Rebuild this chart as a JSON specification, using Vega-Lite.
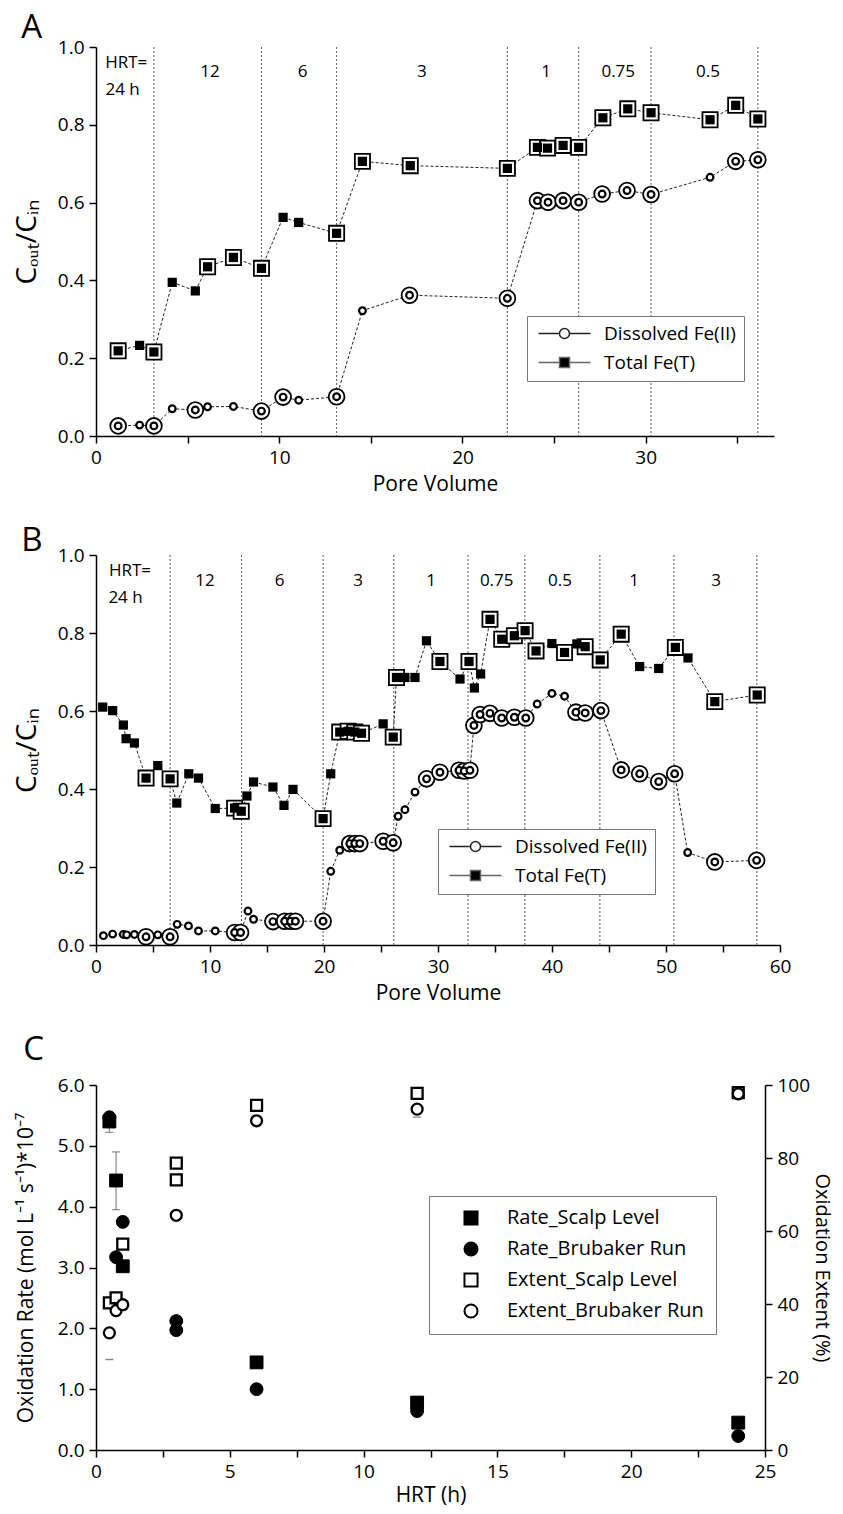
{
 "$schema": "https://vega.github.io/schema/vega-lite/v6.json",
 "background": "white",
 "padding": {"left": 13, "top": 12, "right": 4, "bottom": 6},
 "config": {
  "font": "Open Sans",
  "view": {"stroke": null},
  "point": {"opacity": 1},
  "axis": {"domainColor": "black", "domainWidth": 1.5, "tickColor": "black", "tickWidth": 1.5, "tickSize": 7, "labelColor": "black", "labelFontSize": 19, "labelFont": "Open Sans", "labelPadding": 5, "titleFont": "Open Sans", "titleFontSize": 21, "titleFontWeight": "normal", "titleColor": "black", "grid": false, "labelOverlap": false, "labelFlush": false},
  "legend": {"labelFont": "Open Sans", "labelColor": "black", "labelFontSize": 19, "labelLimit": 400},
  "title": {"font": "Open Sans", "fontSize": 33, "fontWeight": "normal", "color": "black", "anchor": "start", "frame": "bounds"}
 },
 "resolve": {"scale": {"shape": "independent", "fill": "independent", "stroke": "independent"}, "legend": {"shape": "independent", "fill": "independent", "stroke": "independent"}},
 "datasets": {
  "a_series": [
   {"pv": 1.21, "c": 0.219, "species": "Total Fe(T)", "sampling": "paired"},
   {"pv": 2.38, "c": 0.233, "species": "Total Fe(T)", "sampling": "single"},
   {"pv": 3.16, "c": 0.216, "species": "Total Fe(T)", "sampling": "paired"},
   {"pv": 4.16, "c": 0.395, "species": "Total Fe(T)", "sampling": "single"},
   {"pv": 5.42, "c": 0.373, "species": "Total Fe(T)", "sampling": "single"},
   {"pv": 6.09, "c": 0.435, "species": "Total Fe(T)", "sampling": "paired"},
   {"pv": 7.50, "c": 0.459, "species": "Total Fe(T)", "sampling": "paired"},
   {"pv": 9.03, "c": 0.431, "species": "Total Fe(T)", "sampling": "paired"},
   {"pv": 10.21, "c": 0.562, "species": "Total Fe(T)", "sampling": "single"},
   {"pv": 11.06, "c": 0.549, "species": "Total Fe(T)", "sampling": "single"},
   {"pv": 13.13, "c": 0.521, "species": "Total Fe(T)", "sampling": "paired"},
   {"pv": 14.54, "c": 0.706, "species": "Total Fe(T)", "sampling": "paired"},
   {"pv": 17.15, "c": 0.695, "species": "Total Fe(T)", "sampling": "paired"},
   {"pv": 22.45, "c": 0.688, "species": "Total Fe(T)", "sampling": "paired"},
   {"pv": 24.09, "c": 0.742, "species": "Total Fe(T)", "sampling": "paired"},
   {"pv": 24.64, "c": 0.740, "species": "Total Fe(T)", "sampling": "paired"},
   {"pv": 25.49, "c": 0.747, "species": "Total Fe(T)", "sampling": "paired"},
   {"pv": 26.34, "c": 0.742, "species": "Total Fe(T)", "sampling": "paired"},
   {"pv": 27.66, "c": 0.818, "species": "Total Fe(T)", "sampling": "paired"},
   {"pv": 29.02, "c": 0.841, "species": "Total Fe(T)", "sampling": "paired"},
   {"pv": 30.29, "c": 0.831, "species": "Total Fe(T)", "sampling": "paired"},
   {"pv": 33.51, "c": 0.813, "species": "Total Fe(T)", "sampling": "paired"},
   {"pv": 34.91, "c": 0.850, "species": "Total Fe(T)", "sampling": "paired"},
   {"pv": 36.12, "c": 0.815, "species": "Total Fe(T)", "sampling": "paired"},
   {"pv": 1.21, "c": 0.026, "species": "Dissolved Fe(II)", "sampling": "paired"},
   {"pv": 2.38, "c": 0.028, "species": "Dissolved Fe(II)", "sampling": "single"},
   {"pv": 3.16, "c": 0.026, "species": "Dissolved Fe(II)", "sampling": "paired"},
   {"pv": 4.16, "c": 0.070, "species": "Dissolved Fe(II)", "sampling": "single"},
   {"pv": 5.42, "c": 0.067, "species": "Dissolved Fe(II)", "sampling": "paired"},
   {"pv": 6.09, "c": 0.075, "species": "Dissolved Fe(II)", "sampling": "single"},
   {"pv": 7.50, "c": 0.076, "species": "Dissolved Fe(II)", "sampling": "single"},
   {"pv": 9.03, "c": 0.064, "species": "Dissolved Fe(II)", "sampling": "paired"},
   {"pv": 10.21, "c": 0.100, "species": "Dissolved Fe(II)", "sampling": "paired"},
   {"pv": 11.06, "c": 0.092, "species": "Dissolved Fe(II)", "sampling": "single"},
   {"pv": 13.13, "c": 0.101, "species": "Dissolved Fe(II)", "sampling": "paired"},
   {"pv": 14.54, "c": 0.322, "species": "Dissolved Fe(II)", "sampling": "single"},
   {"pv": 17.11, "c": 0.362, "species": "Dissolved Fe(II)", "sampling": "paired"},
   {"pv": 22.45, "c": 0.354, "species": "Dissolved Fe(II)", "sampling": "paired"},
   {"pv": 24.09, "c": 0.605, "species": "Dissolved Fe(II)", "sampling": "paired"},
   {"pv": 24.67, "c": 0.601, "species": "Dissolved Fe(II)", "sampling": "paired"},
   {"pv": 25.49, "c": 0.605, "species": "Dissolved Fe(II)", "sampling": "paired"},
   {"pv": 26.34, "c": 0.601, "species": "Dissolved Fe(II)", "sampling": "paired"},
   {"pv": 27.62, "c": 0.622, "species": "Dissolved Fe(II)", "sampling": "paired"},
   {"pv": 28.98, "c": 0.631, "species": "Dissolved Fe(II)", "sampling": "paired"},
   {"pv": 30.29, "c": 0.621, "species": "Dissolved Fe(II)", "sampling": "paired"},
   {"pv": 33.51, "c": 0.665, "species": "Dissolved Fe(II)", "sampling": "single"},
   {"pv": 34.91, "c": 0.706, "species": "Dissolved Fe(II)", "sampling": "paired"},
   {"pv": 36.12, "c": 0.710, "species": "Dissolved Fe(II)", "sampling": "paired"}
  ],
  "a_bounds": [{"pv": 3.16}, {"pv": 9.03}, {"pv": 13.13}, {"pv": 22.45}, {"pv": 26.34}, {"pv": 30.29}, {"pv": 36.12}],
  "a_labels": [
   {"pv": 1.65, "c": 0.958, "label": "HRT="},
   {"pv": 1.45, "c": 0.89, "label": "24 h"},
   {"pv": 6.22, "c": 0.935, "label": "12"},
   {"pv": 11.28, "c": 0.935, "label": "6"},
   {"pv": 17.78, "c": 0.935, "label": "3"},
   {"pv": 24.56, "c": 0.935, "label": "1"},
   {"pv": 28.5, "c": 0.935, "label": "0.75"},
   {"pv": 33.4, "c": 0.935, "label": "0.5"}
  ],
  "b_series": [
   {"pv": 0.59, "c": 0.610, "species": "Total Fe(T)", "sampling": "single"},
   {"pv": 1.46, "c": 0.601, "species": "Total Fe(T)", "sampling": "single"},
   {"pv": 2.40, "c": 0.564, "species": "Total Fe(T)", "sampling": "single"},
   {"pv": 2.64, "c": 0.529, "species": "Total Fe(T)", "sampling": "single"},
   {"pv": 3.37, "c": 0.518, "species": "Total Fe(T)", "sampling": "single"},
   {"pv": 4.39, "c": 0.428, "species": "Total Fe(T)", "sampling": "paired"},
   {"pv": 5.42, "c": 0.460, "species": "Total Fe(T)", "sampling": "single"},
   {"pv": 6.50, "c": 0.426, "species": "Total Fe(T)", "sampling": "paired"},
   {"pv": 7.09, "c": 0.364, "species": "Total Fe(T)", "sampling": "single"},
   {"pv": 8.14, "c": 0.439, "species": "Total Fe(T)", "sampling": "single"},
   {"pv": 8.99, "c": 0.428, "species": "Total Fe(T)", "sampling": "single"},
   {"pv": 10.46, "c": 0.350, "species": "Total Fe(T)", "sampling": "single"},
   {"pv": 12.16, "c": 0.351, "species": "Total Fe(T)", "sampling": "paired"},
   {"pv": 12.74, "c": 0.343, "species": "Total Fe(T)", "sampling": "paired"},
   {"pv": 13.24, "c": 0.382, "species": "Total Fe(T)", "sampling": "single"},
   {"pv": 13.82, "c": 0.418, "species": "Total Fe(T)", "sampling": "single"},
   {"pv": 15.52, "c": 0.405, "species": "Total Fe(T)", "sampling": "single"},
   {"pv": 16.49, "c": 0.358, "species": "Total Fe(T)", "sampling": "single"},
   {"pv": 17.28, "c": 0.399, "species": "Total Fe(T)", "sampling": "single"},
   {"pv": 19.92, "c": 0.324, "species": "Total Fe(T)", "sampling": "paired"},
   {"pv": 20.59, "c": 0.439, "species": "Total Fe(T)", "sampling": "single"},
   {"pv": 21.38, "c": 0.546, "species": "Total Fe(T)", "sampling": "paired"},
   {"pv": 22.12, "c": 0.548, "species": "Total Fe(T)", "sampling": "paired"},
   {"pv": 22.70, "c": 0.546, "species": "Total Fe(T)", "sampling": "paired"},
   {"pv": 23.29, "c": 0.543, "species": "Total Fe(T)", "sampling": "paired"},
   {"pv": 25.19, "c": 0.567, "species": "Total Fe(T)", "sampling": "single"},
   {"pv": 26.07, "c": 0.533, "species": "Total Fe(T)", "sampling": "paired"},
   {"pv": 26.36, "c": 0.686, "species": "Total Fe(T)", "sampling": "paired"},
   {"pv": 27.10, "c": 0.686, "species": "Total Fe(T)", "sampling": "single"},
   {"pv": 27.98, "c": 0.686, "species": "Total Fe(T)", "sampling": "single"},
   {"pv": 28.99, "c": 0.780, "species": "Total Fe(T)", "sampling": "single"},
   {"pv": 30.17, "c": 0.727, "species": "Total Fe(T)", "sampling": "paired"},
   {"pv": 31.93, "c": 0.682, "species": "Total Fe(T)", "sampling": "single"},
   {"pv": 32.72, "c": 0.727, "species": "Total Fe(T)", "sampling": "paired"},
   {"pv": 33.19, "c": 0.659, "species": "Total Fe(T)", "sampling": "single"},
   {"pv": 33.74, "c": 0.695, "species": "Total Fe(T)", "sampling": "single"},
   {"pv": 34.56, "c": 0.835, "species": "Total Fe(T)", "sampling": "paired"},
   {"pv": 35.59, "c": 0.784, "species": "Total Fe(T)", "sampling": "paired"},
   {"pv": 36.70, "c": 0.793, "species": "Total Fe(T)", "sampling": "paired"},
   {"pv": 37.64, "c": 0.806, "species": "Total Fe(T)", "sampling": "paired"},
   {"pv": 38.60, "c": 0.754, "species": "Total Fe(T)", "sampling": "paired"},
   {"pv": 39.99, "c": 0.773, "species": "Total Fe(T)", "sampling": "single"},
   {"pv": 41.10, "c": 0.750, "species": "Total Fe(T)", "sampling": "paired"},
   {"pv": 42.18, "c": 0.772, "species": "Total Fe(T)", "sampling": "single"},
   {"pv": 42.91, "c": 0.765, "species": "Total Fe(T)", "sampling": "paired"},
   {"pv": 44.23, "c": 0.731, "species": "Total Fe(T)", "sampling": "paired"},
   {"pv": 46.07, "c": 0.797, "species": "Total Fe(T)", "sampling": "paired"},
   {"pv": 47.69, "c": 0.714, "species": "Total Fe(T)", "sampling": "single"},
   {"pv": 49.36, "c": 0.709, "species": "Total Fe(T)", "sampling": "single"},
   {"pv": 50.82, "c": 0.763, "species": "Total Fe(T)", "sampling": "paired"},
   {"pv": 51.93, "c": 0.736, "species": "Total Fe(T)", "sampling": "single"},
   {"pv": 54.28, "c": 0.624, "species": "Total Fe(T)", "sampling": "paired"},
   {"pv": 58.00, "c": 0.641, "species": "Total Fe(T)", "sampling": "paired"},
   {"pv": 0.65, "c": 0.024, "species": "Dissolved Fe(II)", "sampling": "single"},
   {"pv": 1.46, "c": 0.028, "species": "Dissolved Fe(II)", "sampling": "single"},
   {"pv": 2.40, "c": 0.027, "species": "Dissolved Fe(II)", "sampling": "single"},
   {"pv": 2.69, "c": 0.026, "species": "Dissolved Fe(II)", "sampling": "single"},
   {"pv": 3.37, "c": 0.027, "species": "Dissolved Fe(II)", "sampling": "single"},
   {"pv": 4.39, "c": 0.021, "species": "Dissolved Fe(II)", "sampling": "paired"},
   {"pv": 5.42, "c": 0.026, "species": "Dissolved Fe(II)", "sampling": "single"},
   {"pv": 6.50, "c": 0.021, "species": "Dissolved Fe(II)", "sampling": "paired"},
   {"pv": 7.12, "c": 0.053, "species": "Dissolved Fe(II)", "sampling": "single"},
   {"pv": 8.11, "c": 0.049, "species": "Dissolved Fe(II)", "sampling": "single"},
   {"pv": 8.99, "c": 0.036, "species": "Dissolved Fe(II)", "sampling": "single"},
   {"pv": 10.46, "c": 0.036, "species": "Dissolved Fe(II)", "sampling": "single"},
   {"pv": 12.16, "c": 0.032, "species": "Dissolved Fe(II)", "sampling": "paired"},
   {"pv": 12.68, "c": 0.032, "species": "Dissolved Fe(II)", "sampling": "paired"},
   {"pv": 13.33, "c": 0.087, "species": "Dissolved Fe(II)", "sampling": "single"},
   {"pv": 13.82, "c": 0.066, "species": "Dissolved Fe(II)", "sampling": "single"},
   {"pv": 15.52, "c": 0.060, "species": "Dissolved Fe(II)", "sampling": "paired"},
   {"pv": 16.55, "c": 0.061, "species": "Dissolved Fe(II)", "sampling": "paired"},
   {"pv": 17.07, "c": 0.061, "species": "Dissolved Fe(II)", "sampling": "paired"},
   {"pv": 17.49, "c": 0.061, "species": "Dissolved Fe(II)", "sampling": "paired"},
   {"pv": 19.92, "c": 0.061, "species": "Dissolved Fe(II)", "sampling": "paired"},
   {"pv": 20.59, "c": 0.189, "species": "Dissolved Fe(II)", "sampling": "single"},
   {"pv": 21.38, "c": 0.243, "species": "Dissolved Fe(II)", "sampling": "single"},
   {"pv": 22.26, "c": 0.260, "species": "Dissolved Fe(II)", "sampling": "paired"},
   {"pv": 22.70, "c": 0.260, "species": "Dissolved Fe(II)", "sampling": "paired"},
   {"pv": 23.14, "c": 0.260, "species": "Dissolved Fe(II)", "sampling": "paired"},
   {"pv": 25.19, "c": 0.266, "species": "Dissolved Fe(II)", "sampling": "paired"},
   {"pv": 26.07, "c": 0.262, "species": "Dissolved Fe(II)", "sampling": "paired"},
   {"pv": 26.50, "c": 0.330, "species": "Dissolved Fe(II)", "sampling": "single"},
   {"pv": 27.10, "c": 0.347, "species": "Dissolved Fe(II)", "sampling": "single"},
   {"pv": 27.98, "c": 0.392, "species": "Dissolved Fe(II)", "sampling": "single"},
   {"pv": 29.00, "c": 0.426, "species": "Dissolved Fe(II)", "sampling": "paired"},
   {"pv": 30.17, "c": 0.443, "species": "Dissolved Fe(II)", "sampling": "paired"},
   {"pv": 31.84, "c": 0.448, "species": "Dissolved Fe(II)", "sampling": "paired"},
   {"pv": 32.30, "c": 0.446, "species": "Dissolved Fe(II)", "sampling": "paired"},
   {"pv": 32.80, "c": 0.448, "species": "Dissolved Fe(II)", "sampling": "paired"},
   {"pv": 33.15, "c": 0.563, "species": "Dissolved Fe(II)", "sampling": "paired"},
   {"pv": 33.69, "c": 0.591, "species": "Dissolved Fe(II)", "sampling": "paired"},
   {"pv": 34.56, "c": 0.594, "species": "Dissolved Fe(II)", "sampling": "paired"},
   {"pv": 35.59, "c": 0.582, "species": "Dissolved Fe(II)", "sampling": "paired"},
   {"pv": 36.70, "c": 0.584, "species": "Dissolved Fe(II)", "sampling": "paired"},
   {"pv": 37.70, "c": 0.582, "species": "Dissolved Fe(II)", "sampling": "paired"},
   {"pv": 38.70, "c": 0.618, "species": "Dissolved Fe(II)", "sampling": "single"},
   {"pv": 39.99, "c": 0.645, "species": "Dissolved Fe(II)", "sampling": "single"},
   {"pv": 41.10, "c": 0.638, "species": "Dissolved Fe(II)", "sampling": "single"},
   {"pv": 42.10, "c": 0.597, "species": "Dissolved Fe(II)", "sampling": "paired"},
   {"pv": 42.91, "c": 0.595, "species": "Dissolved Fe(II)", "sampling": "paired"},
   {"pv": 44.29, "c": 0.601, "species": "Dissolved Fe(II)", "sampling": "paired"},
   {"pv": 46.07, "c": 0.449, "species": "Dissolved Fe(II)", "sampling": "paired"},
   {"pv": 47.69, "c": 0.439, "species": "Dissolved Fe(II)", "sampling": "paired"},
   {"pv": 49.36, "c": 0.419, "species": "Dissolved Fe(II)", "sampling": "paired"},
   {"pv": 50.76, "c": 0.439, "species": "Dissolved Fe(II)", "sampling": "paired"},
   {"pv": 51.90, "c": 0.237, "species": "Dissolved Fe(II)", "sampling": "single"},
   {"pv": 54.28, "c": 0.213, "species": "Dissolved Fe(II)", "sampling": "paired"},
   {"pv": 57.95, "c": 0.217, "species": "Dissolved Fe(II)", "sampling": "paired"}
  ],
  "b_bounds": [{"pv": 6.5}, {"pv": 12.77}, {"pv": 19.92}, {"pv": 26.12}, {"pv": 32.63}, {"pv": 37.62}, {"pv": 44.2}, {"pv": 50.7}, {"pv": 57.97}],
  "b_labels": [
   {"pv": 2.98, "c": 0.958, "label": "HRT="},
   {"pv": 2.59, "c": 0.89, "label": "24 h"},
   {"pv": 9.56, "c": 0.934, "label": "12"},
   {"pv": 16.1, "c": 0.934, "label": "6"},
   {"pv": 23.0, "c": 0.934, "label": "3"},
   {"pv": 29.4, "c": 0.934, "label": "1"},
   {"pv": 35.15, "c": 0.934, "label": "0.75"},
   {"pv": 40.7, "c": 0.934, "label": "0.5"},
   {"pv": 47.2, "c": 0.934, "label": "1"},
   {"pv": 54.4, "c": 0.934, "label": "3"}
  ],
  "c_pts": [
   {"hrt": 0.5, "series": "Rate_Scalp Level", "value": 5.40},
   {"hrt": 0.5, "series": "Rate_Brubaker Run", "value": 5.47},
   {"hrt": 0.5, "series": "Extent_Scalp Level", "value": 40.3},
   {"hrt": 0.5, "series": "Extent_Brubaker Run", "value": 32.1},
   {"hrt": 0.75, "series": "Rate_Scalp Level", "value": 4.43},
   {"hrt": 0.75, "series": "Rate_Brubaker Run", "value": 3.17},
   {"hrt": 0.75, "series": "Extent_Scalp Level", "value": 41.7},
   {"hrt": 0.75, "series": "Extent_Brubaker Run", "value": 38.2},
   {"hrt": 1, "series": "Rate_Scalp Level", "value": 3.02},
   {"hrt": 1, "series": "Rate_Brubaker Run", "value": 3.75},
   {"hrt": 1, "series": "Extent_Scalp Level", "value": 56.4},
   {"hrt": 1, "series": "Extent_Brubaker Run", "value": 39.8},
   {"hrt": 3, "series": "Rate_Brubaker Run", "value": 2.12},
   {"hrt": 3, "series": "Rate_Brubaker Run", "value": 1.97},
   {"hrt": 3, "series": "Extent_Scalp Level", "value": 78.6},
   {"hrt": 3, "series": "Extent_Scalp Level", "value": 74.0},
   {"hrt": 3, "series": "Extent_Brubaker Run", "value": 64.3},
   {"hrt": 6, "series": "Rate_Scalp Level", "value": 1.44},
   {"hrt": 6, "series": "Rate_Brubaker Run", "value": 1.00},
   {"hrt": 6, "series": "Extent_Scalp Level", "value": 94.4},
   {"hrt": 6, "series": "Extent_Brubaker Run", "value": 90.2},
   {"hrt": 12, "series": "Rate_Scalp Level", "value": 0.78},
   {"hrt": 12, "series": "Rate_Brubaker Run", "value": 0.64},
   {"hrt": 12, "series": "Extent_Scalp Level", "value": 97.7},
   {"hrt": 12, "series": "Extent_Brubaker Run", "value": 93.4},
   {"hrt": 24, "series": "Rate_Scalp Level", "value": 0.45},
   {"hrt": 24, "series": "Rate_Brubaker Run", "value": 0.23},
   {"hrt": 24, "series": "Extent_Scalp Level", "value": 97.9},
   {"hrt": 24, "series": "Extent_Brubaker Run", "value": 97.6}
  ],
  "c_err_rate": [
   {"hrt": 0.75, "lo": 3.95, "hi": 4.90},
   {"hrt": 0.5, "lo": 5.22, "hi": 5.47}
  ],
  "c_err_ext": [
   {"hrt": 0.5, "lo": 24.8, "hi": 32.1},
   {"hrt": 12, "lo": 91.2, "hi": 93.4}
  ]
 },
 "spacing": 31,
 "vconcat": [
  {
   "width": 678, "height": 389,
   "title": {"text": "A", "dx": 8, "offset": -7},
   "layer": [
    {"data": {"name": "a_bounds"}, "mark": {"type": "rule", "color": "#555", "strokeWidth": 1, "strokeDash": [2, 2]},
     "encoding": {"x": {"field": "pv", "type": "quantitative"}}},
    {"data": {"name": "a_labels"}, "mark": {"type": "text", "fontSize": 17, "color": "black", "font": "Open Sans"},
     "encoding": {
      "x": {"field": "pv", "type": "quantitative", "scale": {"domain": [0, 37], "nice": false}, "title": "Pore Volume",
            "axis": {"values": [0, 5, 10, 15, 20, 25, 30, 35], "labelExpr": "datum.value % 10 == 0 ? datum.label : ''", "titlePadding": 6}},
      "y": {"field": "c", "type": "quantitative", "scale": {"domain": [0, 1], "nice": false}, "title": "Cₒᵤₜ/Cᵢₙ",
            "axis": {"values": [0, 0.1, 0.2, 0.3, 0.4, 0.5, 0.6, 0.7, 0.8, 0.9, 1], "labelExpr": "round(datum.value*10) % 2 == 0 ? format(datum.value, '.1f') : ''", "titleFontSize": 28, "titlePadding": 16}},
      "text": {"field": "label"}}},
    {"data": {"name": "a_series"}, "mark": {"type": "line", "color": "#222", "strokeWidth": 1, "strokeDash": [3, 2]},
     "encoding": {"x": {"field": "pv", "type": "quantitative"}, "y": {"field": "c", "type": "quantitative"}, "detail": {"field": "species"}}},
    {"data": {"name": "a_series"}, "transform": [{"filter": "datum.species == 'Total Fe(T)' && datum.sampling == 'paired'"}],
     "mark": {"type": "point", "shape": "square", "size": 230, "filled": true, "fill": "white", "stroke": "black", "strokeWidth": 1.8},
     "encoding": {"x": {"field": "pv", "type": "quantitative"}, "y": {"field": "c", "type": "quantitative"}}},
    {"data": {"name": "a_series"}, "transform": [{"filter": "datum.species == 'Dissolved Fe(II)' && datum.sampling == 'paired'"}],
     "mark": {"type": "point", "shape": "circle", "size": 250, "filled": true, "fill": "white", "stroke": "black", "strokeWidth": 1.8},
     "encoding": {"x": {"field": "pv", "type": "quantitative"}, "y": {"field": "c", "type": "quantitative"}}},
    {"data": {"name": "a_series"}, "transform": [{"filter": "datum.species == 'Total Fe(T)'"}],
     "mark": {"type": "point", "shape": "square", "size": 85, "filled": true, "fill": "black", "strokeWidth": 0},
     "encoding": {"x": {"field": "pv", "type": "quantitative"}, "y": {"field": "c", "type": "quantitative"}}},
    {"data": {"name": "a_series"}, "transform": [{"filter": "datum.species == 'Dissolved Fe(II)'"}],
     "mark": {"type": "point", "shape": "circle", "size": 45, "filled": true, "fill": "white", "stroke": "black", "strokeWidth": 2.2},
     "encoding": {"x": {"field": "pv", "type": "quantitative"}, "y": {"field": "c", "type": "quantitative"}}},
    {"data": {"name": "a_series"}, "mark": {"type": "point", "filled": true, "opacity": 0},
     "encoding": {"x": {"field": "pv", "type": "quantitative"}, "y": {"field": "c", "type": "quantitative"},
      "shape": {"field": "species", "type": "nominal", "scale": {"domain": ["Dissolved Fe(II)", "Total Fe(T)"], "range": ["M-5.2,0H-1.1M1.1,0H5.2M-1,0A1,1 0 1,0 1,0A1,1 0 1,0 -1,0", "M-5.2,0H-1.1M1.1,0H5.2M-1,-1H1V1H-1Z"]},
       "legend": {"title": null, "orient": "none", "legendX": 431, "legendY": 269, "symbolSize": 100, "symbolOffset": 20, "labelOffset": 30, "padding": 8, "rowPadding": 9, "strokeColor": "#777", "fillColor": "white", "symbolStrokeWidth": 1.5, "symbolOpacity": 1, "labelFontSize": 19}},
      "fill": {"field": "species", "type": "nominal", "scale": {"domain": ["Dissolved Fe(II)", "Total Fe(T)"], "range": ["white", "black"]},
       "legend": {"title": null, "orient": "none", "legendX": 431, "legendY": 269, "symbolSize": 100, "symbolOffset": 20, "labelOffset": 30, "padding": 8, "rowPadding": 9, "strokeColor": "#777", "fillColor": "white", "symbolStrokeWidth": 1.5, "symbolOpacity": 1, "labelFontSize": 19}},
      "stroke": {"field": "species", "type": "nominal", "scale": {"domain": ["Dissolved Fe(II)", "Total Fe(T)"], "range": ["#222", "#666"]},
       "legend": {"title": null, "orient": "none", "legendX": 431, "legendY": 269, "symbolSize": 100, "symbolOffset": 20, "labelOffset": 30, "padding": 8, "rowPadding": 9, "strokeColor": "#777", "fillColor": "white", "symbolStrokeWidth": 1.5, "symbolOpacity": 1, "labelFontSize": 19}}}}
   ]
  },
  {
   "width": 684, "height": 390,
   "title": {"text": "B", "dx": 8, "offset": -12},
   "layer": [
    {"data": {"name": "b_bounds"}, "mark": {"type": "rule", "color": "#555", "strokeWidth": 1, "strokeDash": [2, 2]},
     "encoding": {"x": {"field": "pv", "type": "quantitative"}}},
    {"data": {"name": "b_labels"}, "mark": {"type": "text", "fontSize": 17, "color": "black", "font": "Open Sans"},
     "encoding": {
      "x": {"field": "pv", "type": "quantitative", "scale": {"domain": [0, 60], "nice": false}, "title": "Pore Volume",
            "axis": {"values": [0, 5, 10, 15, 20, 25, 30, 35, 40, 45, 50, 55, 60], "labelExpr": "datum.value % 10 == 0 ? datum.label : ''", "titlePadding": 6}},
      "y": {"field": "c", "type": "quantitative", "scale": {"domain": [0, 1], "nice": false}, "title": "Cₒᵤₜ/Cᵢₙ",
            "axis": {"values": [0, 0.1, 0.2, 0.3, 0.4, 0.5, 0.6, 0.7, 0.8, 0.9, 1], "labelExpr": "round(datum.value*10) % 2 == 0 ? format(datum.value, '.1f') : ''", "titleFontSize": 28, "titlePadding": 16}},
      "text": {"field": "label"}}},
    {"data": {"name": "b_series"}, "mark": {"type": "line", "color": "#222", "strokeWidth": 1, "strokeDash": [3, 2]},
     "encoding": {"x": {"field": "pv", "type": "quantitative"}, "y": {"field": "c", "type": "quantitative"}, "detail": {"field": "species"}}},
    {"data": {"name": "b_series"}, "transform": [{"filter": "datum.species == 'Total Fe(T)' && datum.sampling == 'paired'"}],
     "mark": {"type": "point", "shape": "square", "size": 230, "filled": true, "fill": "white", "stroke": "black", "strokeWidth": 1.8},
     "encoding": {"x": {"field": "pv", "type": "quantitative"}, "y": {"field": "c", "type": "quantitative"}}},
    {"data": {"name": "b_series"}, "transform": [{"filter": "datum.species == 'Dissolved Fe(II)' && datum.sampling == 'paired'"}],
     "mark": {"type": "point", "shape": "circle", "size": 250, "filled": true, "fill": "white", "stroke": "black", "strokeWidth": 1.8},
     "encoding": {"x": {"field": "pv", "type": "quantitative"}, "y": {"field": "c", "type": "quantitative"}}},
    {"data": {"name": "b_series"}, "transform": [{"filter": "datum.species == 'Total Fe(T)'"}],
     "mark": {"type": "point", "shape": "square", "size": 85, "filled": true, "fill": "black", "strokeWidth": 0},
     "encoding": {"x": {"field": "pv", "type": "quantitative"}, "y": {"field": "c", "type": "quantitative"}}},
    {"data": {"name": "b_series"}, "transform": [{"filter": "datum.species == 'Dissolved Fe(II)'"}],
     "mark": {"type": "point", "shape": "circle", "size": 45, "filled": true, "fill": "white", "stroke": "black", "strokeWidth": 2.2},
     "encoding": {"x": {"field": "pv", "type": "quantitative"}, "y": {"field": "c", "type": "quantitative"}}},
    {"data": {"name": "b_series"}, "mark": {"type": "point", "filled": true, "opacity": 0},
     "encoding": {"x": {"field": "pv", "type": "quantitative"}, "y": {"field": "c", "type": "quantitative"},
      "shape": {"field": "species", "type": "nominal", "scale": {"domain": ["Dissolved Fe(II)", "Total Fe(T)"], "range": ["M-5.2,0H-1.1M1.1,0H5.2M-1,0A1,1 0 1,0 1,0A1,1 0 1,0 -1,0", "M-5.2,0H-1.1M1.1,0H5.2M-1,-1H1V1H-1Z"]},
       "legend": {"title": null, "orient": "none", "legendX": 342, "legendY": 274, "symbolSize": 100, "symbolOffset": 20, "labelOffset": 30, "padding": 8, "rowPadding": 9, "strokeColor": "#777", "fillColor": "white", "symbolStrokeWidth": 1.5, "symbolOpacity": 1, "labelFontSize": 19}},
      "fill": {"field": "species", "type": "nominal", "scale": {"domain": ["Dissolved Fe(II)", "Total Fe(T)"], "range": ["white", "black"]},
       "legend": {"title": null, "orient": "none", "legendX": 342, "legendY": 274, "symbolSize": 100, "symbolOffset": 20, "labelOffset": 30, "padding": 8, "rowPadding": 9, "strokeColor": "#777", "fillColor": "white", "symbolStrokeWidth": 1.5, "symbolOpacity": 1, "labelFontSize": 19}},
      "stroke": {"field": "species", "type": "nominal", "scale": {"domain": ["Dissolved Fe(II)", "Total Fe(T)"], "range": ["#222", "#666"]},
       "legend": {"title": null, "orient": "none", "legendX": 342, "legendY": 274, "symbolSize": 100, "symbolOffset": 20, "labelOffset": 30, "padding": 8, "rowPadding": 9, "strokeColor": "#777", "fillColor": "white", "symbolStrokeWidth": 1.5, "symbolOpacity": 1, "labelFontSize": 19}}}}
   ]
  },
  {
   "width": 669, "height": 365,
   "title": {"text": "C", "dx": 8, "offset": 9},
   "resolve": {"scale": {"y": "independent"}},
   "layer": [
    {
     "layer": [
      {"data": {"name": "c_err_rate"}, "mark": {"type": "rule", "color": "#888", "strokeWidth": 1.2},
       "encoding": {"x": {"field": "hrt", "type": "quantitative"}, "y": {"field": "lo", "type": "quantitative"}, "y2": {"field": "hi"}}},
      {"data": {"name": "c_err_rate"}, "mark": {"type": "tick", "orient": "horizontal", "color": "#666", "size": 8, "thickness": 1.3},
       "encoding": {"x": {"field": "hrt", "type": "quantitative"}, "y": {"field": "lo", "type": "quantitative"}}},
      {"data": {"name": "c_err_rate"}, "mark": {"type": "tick", "orient": "horizontal", "color": "#666", "size": 8, "thickness": 1.3},
       "encoding": {"x": {"field": "hrt", "type": "quantitative"}, "y": {"field": "hi", "type": "quantitative"}}},
      {"data": {"name": "c_pts"}, "transform": [{"filter": "indexof(datum.series, 'Rate') == 0"}],
       "mark": {"type": "point", "filled": true, "size": 165, "strokeWidth": 1},
       "encoding": {
        "x": {"field": "hrt", "type": "quantitative", "scale": {"domain": [0, 25], "nice": false}, "title": "HRT (h)",
              "axis": {"values": [0, 2.5, 5, 7.5, 10, 12.5, 15, 17.5, 20, 22.5, 25], "labelExpr": "datum.value % 5 == 0 ? datum.label : ''", "labelPadding": 5, "titlePadding": 3}},
        "y": {"field": "value", "type": "quantitative", "scale": {"domain": [0, 6], "nice": false}, "title": "Oxidation Rate (mol L⁻¹ s⁻¹)*10⁻⁷",
              "axis": {"orient": "left", "values": [0, 0.5, 1, 1.5, 2, 2.5, 3, 3.5, 4, 4.5, 5, 5.5, 6], "labelExpr": "datum.value % 1 == 0 ? format(datum.value, '.1f') : ''", "titlePadding": 21}},
        "shape": {"field": "series", "type": "nominal", "scale": {"domain": ["Rate_Scalp Level", "Rate_Brubaker Run", "Extent_Scalp Level", "Extent_Brubaker Run"], "range": ["square", "circle", "square", "circle"]},
         "legend": {"title": null, "orient": "none", "legendX": 333, "legendY": 111, "symbolSize": 170, "symbolOffset": 20, "labelOffset": 26, "padding": 12, "rowPadding": 9, "strokeColor": "#777", "fillColor": "white", "symbolStrokeWidth": 2, "symbolOpacity": 1, "labelFontSize": 20, "labelLimit": 400}},
        "fill": {"field": "series", "type": "nominal", "scale": {"domain": ["Rate_Scalp Level", "Rate_Brubaker Run", "Extent_Scalp Level", "Extent_Brubaker Run"], "range": ["black", "black", "white", "white"]},
         "legend": {"title": null, "orient": "none", "legendX": 333, "legendY": 111, "symbolSize": 170, "symbolOffset": 20, "labelOffset": 26, "padding": 12, "rowPadding": 9, "strokeColor": "#777", "fillColor": "white", "symbolStrokeWidth": 2, "symbolOpacity": 1, "labelFontSize": 20, "labelLimit": 400}},
        "stroke": {"field": "series", "type": "nominal", "scale": {"domain": ["Rate_Scalp Level", "Rate_Brubaker Run", "Extent_Scalp Level", "Extent_Brubaker Run"], "range": ["black", "black", "black", "black"]},
         "legend": {"title": null, "orient": "none", "legendX": 333, "legendY": 111, "symbolSize": 170, "symbolOffset": 20, "labelOffset": 26, "padding": 12, "rowPadding": 9, "strokeColor": "#777", "fillColor": "white", "symbolStrokeWidth": 2, "symbolOpacity": 1, "labelFontSize": 20, "labelLimit": 400}}}}
     ]
    },
    {
     "layer": [
      {"data": {"name": "c_err_ext"}, "mark": {"type": "tick", "orient": "horizontal", "color": "#555", "size": 8, "thickness": 1.3},
       "encoding": {"x": {"field": "hrt", "type": "quantitative"}, "y": {"field": "lo", "type": "quantitative"}}},
      {"data": {"name": "c_pts"}, "transform": [{"filter": "indexof(datum.series, 'Extent') == 0"}],
       "mark": {"type": "point", "filled": true, "size": 120, "strokeWidth": 2.3},
       "encoding": {
        "x": {"field": "hrt", "type": "quantitative"},
        "y": {"field": "value", "type": "quantitative", "scale": {"domain": [0, 100], "nice": false}, "title": "Oxidation Extent (%)",
              "axis": {"orient": "right", "values": [0, 10, 20, 30, 40, 50, 60, 70, 80, 90, 100], "labelExpr": "datum.value % 20 == 0 ? datum.label : ''", "titlePadding": 2, "titleFontSize": 20}},
        "shape": {"field": "series", "type": "nominal"},
        "fill": {"field": "series", "type": "nominal"},
        "stroke": {"field": "series", "type": "nominal"}}}
     ]
    }
   ]
  }
 ]
}
